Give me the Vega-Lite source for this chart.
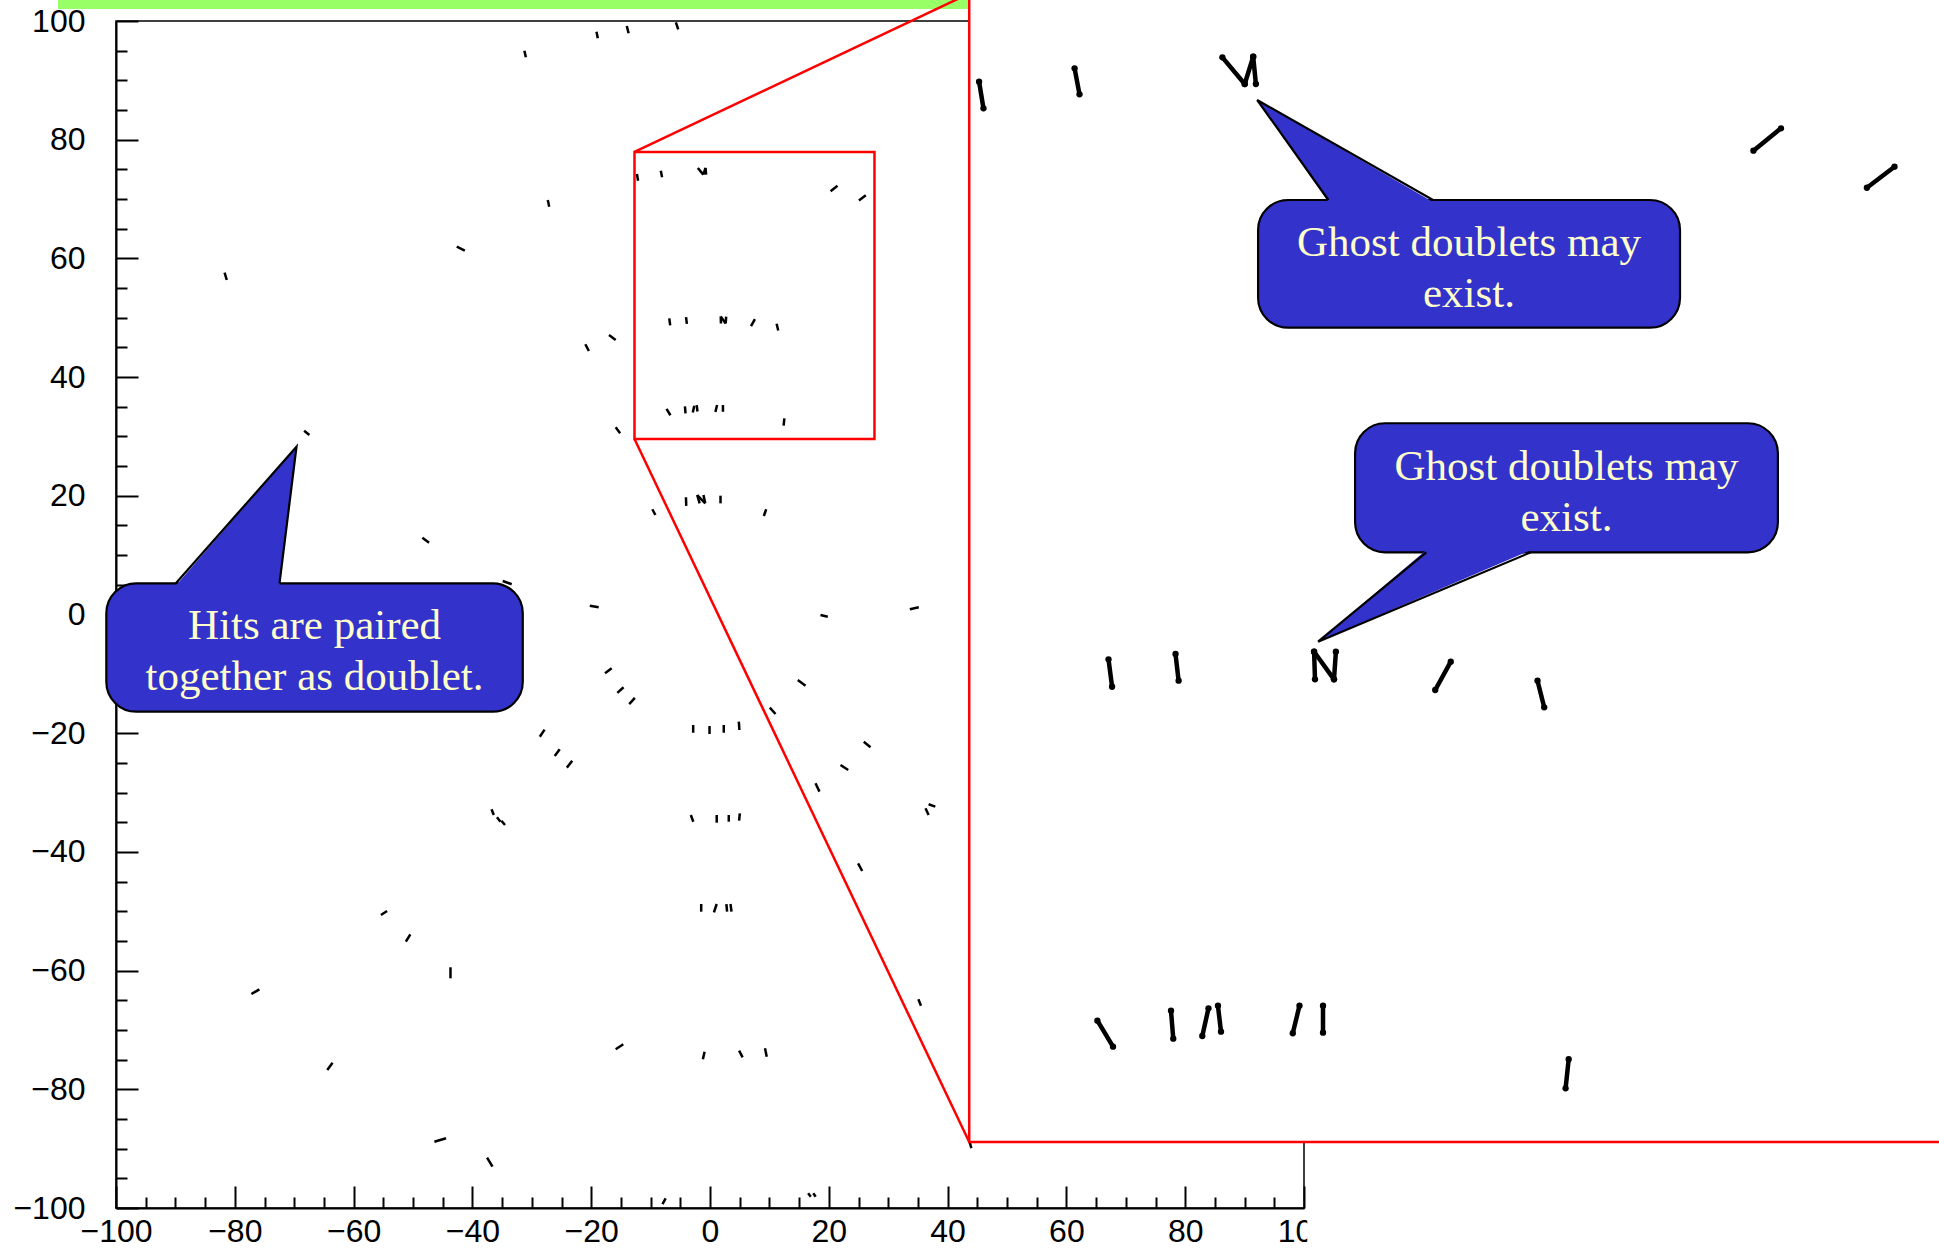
{
  "$schema": "https://vega.github.io/schema/vega-lite/v6.json",
  "usermeta": {"embedOptions": {"actions": false}},
  "width": 1188,
  "height": 1187,
  "autosize": {"type": "none"},
  "padding": {"left": 116, "top": 21, "right": 635, "bottom": 41},
  "background": "white",
  "config": {"view": {"stroke": "black", "strokeWidth": 1.5}},
  "resolve": {"axis": {"x": "independent", "y": "independent"}},
  "datasets": {
    "doublets": [
      {"x": -31.25, "y": 95.0, "x2": -31.0, "y2": 93.9},
      {"x": -19.11, "y": 98.2, "x2": -18.89, "y2": 97.08},
      {"x": -14.01, "y": 99.16, "x2": -13.7, "y2": 97.93},
      {"x": -5.74, "y": 99.78, "x2": -5.35, "y2": 98.6},
      {"x": -27.31, "y": 69.84, "x2": -27.07, "y2": 68.71},
      {"x": -42.63, "y": 61.97, "x2": -41.28, "y2": 61.3},
      {"x": -81.72, "y": 57.59, "x2": -81.35, "y2": 56.36},
      {"x": -20.99, "y": 45.53, "x2": -20.39, "y2": 44.4},
      {"x": -17.0, "y": 47.09, "x2": -15.88, "y2": 46.25},
      {"x": -68.33, "y": 30.97, "x2": -67.44, "y2": 30.24},
      {"x": -15.88, "y": 31.54, "x2": -15.13, "y2": 30.53},
      {"x": -9.71, "y": 17.73, "x2": -9.19, "y2": 16.76},
      {"x": -48.42, "y": 12.94, "x2": -47.29, "y2": 12.1},
      {"x": -34.9, "y": 5.64, "x2": -33.38, "y2": 5.09},
      {"x": -20.24, "y": 1.48, "x2": -18.74, "y2": 1.21},
      {"x": -17.68, "y": -9.91, "x2": -16.55, "y2": -9.07},
      {"x": -15.6, "y": -13.2, "x2": -14.55, "y2": -12.25},
      {"x": -13.6, "y": -15.1, "x2": -12.65, "y2": -14.05},
      {"x": -4.05, "y": 19.75, "x2": -4.0, "y2": 18.3},
      {"x": -2.15, "y": 20.13, "x2": -1.75, "y2": 18.73},
      {"x": -1.1, "y": 20.13, "x2": -0.8, "y2": 18.73},
      {"x": -2.15, "y": 20.13, "x2": -0.8, "y2": 18.73},
      {"x": 1.77, "y": 20.02, "x2": 1.77, "y2": 18.73},
      {"x": 9.06, "y": 16.6, "x2": 9.46, "y2": 17.73},
      {"x": 18.6, "y": -0.08, "x2": 19.83, "y2": -0.37},
      {"x": 33.64, "y": 0.87, "x2": 35.15, "y2": 1.21},
      {"x": -2.83, "y": -18.62, "x2": -2.83, "y2": -19.92},
      {"x": -0.08, "y": -18.79, "x2": -0.08, "y2": -20.13},
      {"x": 2.32, "y": -18.62, "x2": 2.32, "y2": -19.92},
      {"x": 4.85, "y": -18.06, "x2": 4.95, "y2": -19.46},
      {"x": 10.07, "y": -15.7, "x2": 11.03, "y2": -16.77},
      {"x": 14.78, "y": -11.04, "x2": 16.08, "y2": -11.99},
      {"x": 25.89, "y": -21.43, "x2": 27.02, "y2": -22.38},
      {"x": 21.97, "y": -25.36, "x2": 23.27, "y2": -26.2},
      {"x": 17.76, "y": -28.44, "x2": 18.43, "y2": -29.85},
      {"x": -28.65, "y": -20.6, "x2": -27.85, "y2": -19.4},
      {"x": -26.15, "y": -23.85, "x2": -25.3, "y2": -22.7},
      {"x": -24.1, "y": -25.8, "x2": -23.2, "y2": -24.65},
      {"x": -36.78, "y": -32.82, "x2": -36.4, "y2": -33.78},
      {"x": -35.87, "y": -34.17, "x2": -35.27, "y2": -34.91},
      {"x": -35.12, "y": -34.74, "x2": -34.51, "y2": -35.47},
      {"x": -55.4, "y": -50.63, "x2": -54.36, "y2": -49.96},
      {"x": -51.2, "y": -55.13, "x2": -50.45, "y2": -53.88},
      {"x": -43.69, "y": -59.44, "x2": -43.69, "y2": -61.3},
      {"x": -77.21, "y": -63.94, "x2": -75.86, "y2": -63.16},
      {"x": -64.43, "y": -76.75, "x2": -63.54, "y2": -75.52},
      {"x": -46.4, "y": -88.83, "x2": -44.44, "y2": -88.26},
      {"x": -37.53, "y": -91.52, "x2": -36.62, "y2": -93.04},
      {"x": -15.88, "y": -73.26, "x2": -14.6, "y2": -72.42},
      {"x": -8.0, "y": -99.33, "x2": -7.46, "y2": -98.37},
      {"x": -3.23, "y": -33.78, "x2": -2.81, "y2": -34.91},
      {"x": 1.13, "y": -33.78, "x2": 1.13, "y2": -35.08},
      {"x": 3.16, "y": -33.78, "x2": 3.16, "y2": -34.91},
      {"x": 5.02, "y": -33.5, "x2": 4.9, "y2": -34.74},
      {"x": 24.93, "y": -41.92, "x2": 25.62, "y2": -43.22},
      {"x": -1.48, "y": -48.78, "x2": -1.48, "y2": -50.07},
      {"x": 0.66, "y": -50.18, "x2": 1.13, "y2": -48.78},
      {"x": 2.76, "y": -48.78, "x2": 2.88, "y2": -50.07},
      {"x": 3.45, "y": -48.78, "x2": 3.62, "y2": -50.07},
      {"x": 35.08, "y": -64.84, "x2": 35.52, "y2": -65.91},
      {"x": -0.91, "y": -73.66, "x2": -1.2, "y2": -74.94},
      {"x": 4.9, "y": -73.49, "x2": 5.49, "y2": -74.61},
      {"x": 9.26, "y": -73.09, "x2": 9.55, "y2": -74.5},
      {"x": 16.52, "y": -97.53, "x2": 16.97, "y2": -98.1},
      {"x": 17.39, "y": -97.53, "x2": 17.79, "y2": -98.1},
      {"x": 36.28, "y": -32.66, "x2": 36.8, "y2": -33.78},
      {"x": 36.8, "y": -31.98, "x2": 37.93, "y2": -32.38},
      {"x": 43.6, "y": -88.5, "x2": 44.0, "y2": -89.9},
      {"x": -12.3, "y": 74.21, "x2": -12.11, "y2": 73.09},
      {"x": -8.28, "y": 74.78, "x2": -8.07, "y2": 73.68},
      {"x": -2.05, "y": 75.24, "x2": -1.12, "y2": 74.12},
      {"x": -1.12, "y": 74.12, "x2": -0.76, "y2": 75.27},
      {"x": -0.76, "y": 75.27, "x2": -0.65, "y2": 74.12},
      {"x": 20.3, "y": 71.31, "x2": 21.46, "y2": 72.25},
      {"x": 25.07, "y": 69.75, "x2": 26.23, "y2": 70.63},
      {"x": -6.85, "y": 49.88, "x2": -6.7, "y2": 48.73},
      {"x": -4.03, "y": 50.11, "x2": -3.9, "y2": 48.98},
      {"x": 1.81, "y": 50.2, "x2": 1.84, "y2": 49.04},
      {"x": 1.81, "y": 50.2, "x2": 2.64, "y2": 49.04},
      {"x": 2.72, "y": 50.2, "x2": 2.64, "y2": 49.04},
      {"x": 7.56, "y": 49.78, "x2": 6.9, "y2": 48.59},
      {"x": 11.21, "y": 48.98, "x2": 11.49, "y2": 47.86},
      {"x": -7.32, "y": 34.66, "x2": -6.66, "y2": 33.57},
      {"x": -4.22, "y": 35.08, "x2": -4.12, "y2": 33.9},
      {"x": -2.64, "y": 35.18, "x2": -2.9, "y2": 34.02},
      {"x": -2.24, "y": 35.29, "x2": -2.11, "y2": 34.2},
      {"x": 1.19, "y": 35.29, "x2": 0.91, "y2": 34.13},
      {"x": 2.18, "y": 35.29, "x2": 2.18, "y2": 34.16},
      {"x": 12.52, "y": 33.04, "x2": 12.39, "y2": 31.81}
    ],
    "inset": [
      {"x": 45.3, "y": 89.77, "x2": 46.04, "y2": 85.29},
      {"x": 61.38, "y": 92.03, "x2": 62.21, "y2": 87.65},
      {"x": 86.26, "y": 93.88, "x2": 90.02, "y2": 89.39},
      {"x": 90.02, "y": 89.39, "x2": 91.45, "y2": 93.98},
      {"x": 91.45, "y": 93.98, "x2": 91.9, "y2": 89.39},
      {"x": 175.66, "y": 78.15, "x2": 180.3, "y2": 81.92},
      {"x": 194.76, "y": 71.91, "x2": 199.41, "y2": 75.45},
      {"x": 67.09, "y": -7.55, "x2": 67.69, "y2": -12.17},
      {"x": 78.37, "y": -6.66, "x2": 78.89, "y2": -11.15},
      {"x": 101.7, "y": -6.27, "x2": 101.85, "y2": -10.92},
      {"x": 101.7, "y": -6.27, "x2": 105.05, "y2": -10.92},
      {"x": 105.37, "y": -6.27, "x2": 105.05, "y2": -10.92},
      {"x": 124.71, "y": -7.95, "x2": 122.09, "y2": -12.72},
      {"x": 139.31, "y": -11.15, "x2": 140.44, "y2": -15.64},
      {"x": 65.22, "y": -68.44, "x2": 67.85, "y2": -72.82},
      {"x": 77.61, "y": -66.76, "x2": 77.99, "y2": -71.47},
      {"x": 83.92, "y": -66.35, "x2": 82.88, "y2": -71.02},
      {"x": 85.51, "y": -65.91, "x2": 86.03, "y2": -70.29},
      {"x": 99.24, "y": -65.91, "x2": 98.11, "y2": -70.56},
      {"x": 103.2, "y": -65.91, "x2": 103.2, "y2": -70.46},
      {"x": 144.56, "y": -74.94, "x2": 144.04, "y2": -79.83}
    ],
    "boxes": [
      {"c": "A", "x": -101.63, "x2": -31.52, "y": 5.26, "y2": -16.38},
      {"c": "B", "x": 92.27, "x2": 163.3, "y": 69.84, "y2": 48.32},
      {"c": "C", "x": 108.6, "x2": 179.78, "y": 32.22, "y2": 10.48}
    ],
    "tailArea": [
      {"c": "A", "x": -89.92, "y": 4.9, "y2": 4.9},
      {"c": "A", "x": -72.47, "y": 24.98, "y2": 4.9},
      {"c": "A", "x": -69.61, "y": 28.27, "y2": 28.27},
      {"c": "B", "x": 92.12, "y": 86.69, "y2": 86.69},
      {"c": "B", "x": 104.11, "y": 79.73, "y2": 69.5},
      {"c": "B", "x": 121.72, "y": 69.5, "y2": 69.5},
      {"c": "C", "x": 102.37, "y": -4.58, "y2": -4.58},
      {"c": "C", "x": 120.59, "y": 10.85, "y2": 3.27},
      {"c": "C", "x": 138.19, "y": 10.85, "y2": 10.85}
    ],
    "tailLine": [
      {"c": "A", "o": 1, "x": -89.92, "y": 5.26},
      {"c": "A", "o": 2, "x": -69.61, "y": 28.27},
      {"c": "A", "o": 3, "x": -72.47, "y": 5.26},
      {"c": "B", "o": 1, "x": 104.11, "y": 69.84},
      {"c": "B", "o": 2, "x": 92.12, "y": 86.69},
      {"c": "B", "o": 3, "x": 121.72, "y": 69.84},
      {"c": "C", "o": 1, "x": 120.59, "y": 10.48},
      {"c": "C", "o": 2, "x": 102.37, "y": -4.58},
      {"c": "C", "o": 3, "x": 138.19, "y": 10.48}
    ],
    "texts": [
      {"c": "A", "x": -66.58, "y": -4.18, "t": ["Hits are paired", "together as doublet."]},
      {"c": "B", "x": 127.78, "y": 60.4, "t": ["Ghost doublets may", "exist."]},
      {"c": "C", "x": 144.19, "y": 22.66, "t": ["Ghost doublets may", "exist."]}
    ]
  },
  "layer": [
    {
      "data": {"name": "doublets"},
      "mark": {"type": "rule", "color": "black", "strokeWidth": 2.5},
      "encoding": {
        "x": {
          "field": "x", "type": "quantitative",
          "scale": {"domain": [-100, 100], "nice": false, "zero": false},
          "axis": {
            "orient": "bottom", "title": null, "grid": false, "zindex": 0,
            "values": [-100, -80, -60, -40, -20, 0, 20, 40, 60, 80, 100],
            "domain": true, "domainColor": "black", "domainWidth": 2,
            "ticks": true, "tickColor": "black", "tickWidth": 2, "tickSize": -22,
            "labels": true, "labelPadding": 62, "labelBaseline": "bottom", "labelFont": "Liberation Sans", "labelFontSize": 32,
            "labelColor": "black", "labelFlush": false, "labelOverlap": false, "labelBound": false
          }
        },
        "y": {
          "field": "y", "type": "quantitative",
          "scale": {"domain": [-100, 100], "nice": false, "zero": false},
          "axis": {
            "orient": "left", "title": null, "grid": false, "zindex": 0,
            "values": [-100, -80, -60, -40, -20, 0, 20, 40, 60, 80, 100],
            "domain": true, "domainColor": "black", "domainWidth": 2,
            "ticks": true, "tickColor": "black", "tickWidth": 2, "tickSize": -22,
            "labels": true, "labelPadding": 53, "labelFont": "Liberation Sans", "labelFontSize": 32,
            "labelColor": "black", "labelFlush": false, "labelOverlap": false, "labelBound": false
          }
        },
        "x2": {"field": "x2"},
        "y2": {"field": "y2"}
      }
    },
    {
      "data": {"values": [{"x": -12.71, "x2": 27.69, "y": 29.57, "y2": 77.93}]},
      "mark": {"type": "rect", "fill": "white", "fillOpacity": 0, "stroke": "#FF0000", "strokeWidth": 2.5},
      "encoding": {
        "x": {
          "field": "x", "type": "quantitative",
          "scale": {"domain": [-100, 100], "nice": false, "zero": false},
          "axis": {
            "orient": "bottom", "title": null, "grid": false, "zindex": 0,
            "values": [-95,-90,-85,-75,-70,-65,-55,-50,-45,-35,-30,-25,-15,-10,-5,5,10,15,25,30,35,45,50,55,65,70,75,85,90,95],
            "domain": false, "labels": false,
            "ticks": true, "tickColor": "black", "tickWidth": 2, "tickSize": -11
          }
        },
        "x2": {"field": "x2"},
        "y": {
          "field": "y", "type": "quantitative",
          "scale": {"domain": [-100, 100], "nice": false, "zero": false},
          "axis": {
            "orient": "left", "title": null, "grid": false, "zindex": 0,
            "values": [-95,-90,-85,-75,-70,-65,-55,-50,-45,-35,-30,-25,-15,-10,-5,5,10,15,25,30,35,45,50,55,65,70,75,85,90,95],
            "domain": false, "labels": false,
            "ticks": true, "tickColor": "black", "tickWidth": 2, "tickSize": -11
          }
        },
        "y2": {"field": "y2"}
      }
    },
    {
      "data": {"values": [{"x": -109.76, "x2": 43.64, "y": 102.02, "y2": 106}]},
      "mark": {"type": "rect", "fill": "#99FF66"},
      "encoding": {
        "x": {"field": "x", "type": "quantitative", "scale": {"domain": [-100, 100], "nice": false, "zero": false}, "axis": null},
        "x2": {"field": "x2"},
        "y": {"field": "y", "type": "quantitative", "scale": {"domain": [-100, 100], "nice": false, "zero": false}, "axis": null},
        "y2": {"field": "y2"}
      }
    },
    {
      "data": {"values": [
        {"x": -12.71, "y": 77.93, "x2": 43.64, "y2": 104.63},
        {"x": -12.71, "y": 29.57, "x2": 43.64, "y2": -88.88}
      ]},
      "mark": {"type": "rule", "color": "#FF0000", "strokeWidth": 2.5},
      "encoding": {
        "x": {"field": "x", "type": "quantitative", "scale": {"domain": [-100, 100], "nice": false, "zero": false}, "axis": null},
        "x2": {"field": "x2"},
        "y": {"field": "y", "type": "quantitative", "scale": {"domain": [-100, 100], "nice": false, "zero": false}, "axis": null},
        "y2": {"field": "y2"}
      }
    },
    {
      "data": {"values": [{"x": 100.55, "x2": 220, "y": -88.88, "y2": -115}]},
      "mark": {"type": "rect", "fill": "white"},
      "encoding": {
        "x": {"field": "x", "type": "quantitative", "scale": {"domain": [-100, 100], "nice": false, "zero": false}, "axis": null},
        "x2": {"field": "x2"},
        "y": {"field": "y", "type": "quantitative", "scale": {"domain": [-100, 100], "nice": false, "zero": false}, "axis": null},
        "y2": {"field": "y2"}
      }
    },
    {
      "data": {"values": [{"x": 43.64, "x2": 215, "y": -88.88, "y2": 108}]},
      "mark": {"type": "rect", "fill": "white", "stroke": "#FF0000", "strokeWidth": 2.5},
      "encoding": {
        "x": {"field": "x", "type": "quantitative", "scale": {"domain": [-100, 100], "nice": false, "zero": false}, "axis": null},
        "x2": {"field": "x2"},
        "y": {"field": "y", "type": "quantitative", "scale": {"domain": [-100, 100], "nice": false, "zero": false}, "axis": null},
        "y2": {"field": "y2"}
      }
    },
    {
      "data": {"name": "inset"},
      "mark": {"type": "rule", "color": "black", "strokeWidth": 4.5, "strokeCap": "round"},
      "encoding": {
        "x": {"field": "x", "type": "quantitative", "scale": {"domain": [-100, 100], "nice": false, "zero": false}, "axis": null},
        "x2": {"field": "x2"},
        "y": {"field": "y", "type": "quantitative", "scale": {"domain": [-100, 100], "nice": false, "zero": false}, "axis": null},
        "y2": {"field": "y2"}
      }
    },
    {
      "data": {"name": "inset"},
      "mark": {"type": "circle", "color": "black", "opacity": 1, "size": 40},
      "encoding": {
        "x": {"field": "x", "type": "quantitative", "scale": {"domain": [-100, 100], "nice": false, "zero": false}, "axis": null},
        "y": {"field": "y", "type": "quantitative", "scale": {"domain": [-100, 100], "nice": false, "zero": false}, "axis": null}
      }
    },
    {
      "data": {"name": "inset"},
      "mark": {"type": "circle", "color": "black", "opacity": 1, "size": 40},
      "encoding": {
        "x": {"field": "x2", "type": "quantitative", "scale": {"domain": [-100, 100], "nice": false, "zero": false}, "axis": null},
        "y": {"field": "y2", "type": "quantitative", "scale": {"domain": [-100, 100], "nice": false, "zero": false}, "axis": null}
      }
    },
    {
      "data": {"name": "boxes"},
      "mark": {"type": "rect", "fill": "#3333CC", "stroke": "black", "strokeWidth": 2.2, "cornerRadius": 30},
      "encoding": {
        "x": {"field": "x", "type": "quantitative", "scale": {"domain": [-100, 100], "nice": false, "zero": false}, "axis": null},
        "x2": {"field": "x2"},
        "y": {"field": "y", "type": "quantitative", "scale": {"domain": [-100, 100], "nice": false, "zero": false}, "axis": null},
        "y2": {"field": "y2"}
      }
    },
    {
      "data": {"name": "tailArea"},
      "mark": {"type": "area", "fill": "#3333CC", "opacity": 1, "interpolate": "linear"},
      "encoding": {
        "x": {"field": "x", "type": "quantitative", "scale": {"domain": [-100, 100], "nice": false, "zero": false}, "axis": null},
        "y": {"field": "y", "type": "quantitative", "scale": {"domain": [-100, 100], "nice": false, "zero": false}, "axis": null},
        "y2": {"field": "y2"},
        "detail": {"field": "c", "type": "nominal"}
      }
    },
    {
      "data": {"name": "tailLine"},
      "mark": {"type": "line", "color": "black", "strokeWidth": 2.2, "strokeJoin": "miter", "interpolate": "linear"},
      "encoding": {
        "x": {"field": "x", "type": "quantitative", "scale": {"domain": [-100, 100], "nice": false, "zero": false}, "axis": null},
        "y": {"field": "y", "type": "quantitative", "scale": {"domain": [-100, 100], "nice": false, "zero": false}, "axis": null},
        "detail": {"field": "c", "type": "nominal"},
        "order": {"field": "o", "type": "quantitative"}
      }
    },
    {
      "data": {"name": "texts"},
      "mark": {"type": "text", "font": "Liberation Serif", "fontSize": 43, "color": "#FFFFCC", "align": "center", "baseline": "alphabetic", "lineHeight": 51},
      "encoding": {
        "x": {"field": "x", "type": "quantitative", "scale": {"domain": [-100, 100], "nice": false, "zero": false}, "axis": null},
        "y": {"field": "y", "type": "quantitative", "scale": {"domain": [-100, 100], "nice": false, "zero": false}, "axis": null},
        "text": {"field": "t", "type": "nominal"}
      }
    }
  ]
}
